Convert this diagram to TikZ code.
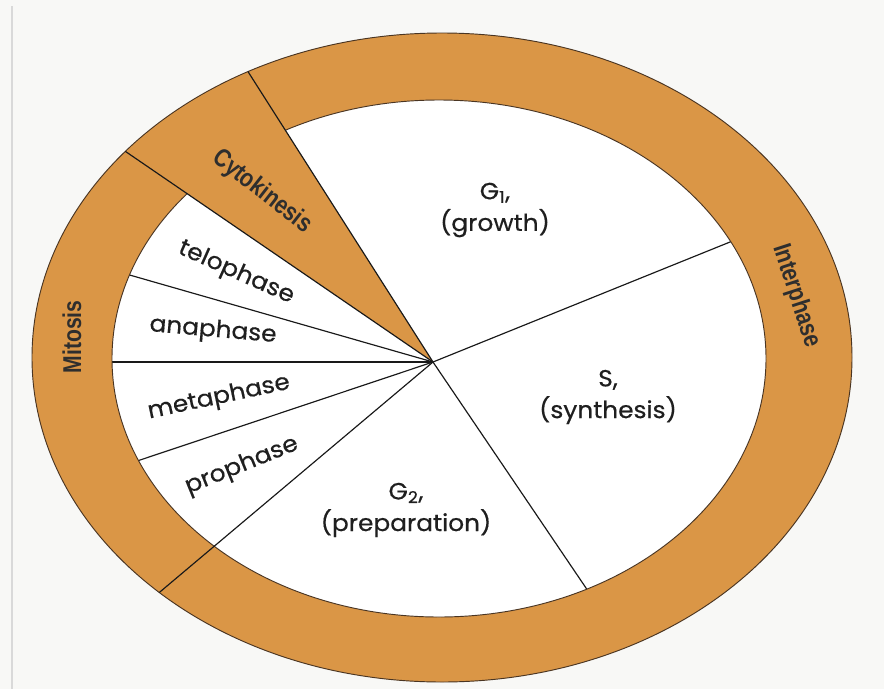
\documentclass[tikz,border=0pt]{standalone}
\usepackage{fontspec}
\setmainfont[FakeStretch=1.06, FakeBold=0.5]{Poppins}
\newfontfamily\stagefont[FakeStretch=0.82]{Liberation Sans}
\usetikzlibrary{calc}

\definecolor{ringorange}{HTML}{DA9646}
\definecolor{edgebrown}{HTML}{4A3522}
\definecolor{paper}{HTML}{F8F8F6}

\tikzset{
  phase/.style={font=\fontsize{20}{27}\selectfont, text=black!88, inner sep=0pt, align=center},
  stage/.style={font=\stagefont\bfseries\fontsize{22}{24}\selectfont, text=black!82, inner sep=0pt},
  radial/.style={draw=black!90, line width=1pt},
  rim/.style={draw=edgebrown, line width=0.8pt},
}

\begin{document}
\begin{tikzpicture}[x=0.03cm, y=-0.03cm]
  \useasboundingbox (0,0) rectangle (884,689);
  \fill[paper] (0,0) rectangle (884,689);
  \draw[black!15, line width=1pt] (12,6) -- (12,689);

  % ring and inner disc
  \coordinate (c) at (433,362);
  \filldraw[fill=ringorange, rim] (442,357.5) ellipse [x radius=410, y radius=324.5];
  \fill[white] (439,358.5) ellipse [x radius=327, y radius=258.5];

  % cytokinesis wedge
  \begin{scope}
    \clip (442,357.5) ellipse [x radius=409, y radius=323.5];
    \fill[ringorange] (c) -- ($(c)+(-122.5:700)$) -- ($(c)+(-145.6:700)$) -- cycle;
  \end{scope}

  \begin{scope}
    \clip (439,358.5) ellipse [x radius=327, y radius=258.5];
    \foreach \a in {-22, -164, -180, -198.5, -304.1}
      \draw[radial] (c) -- ++(\a:700);
  \end{scope}

  % inner rim, not across the wedge
  \begin{scope}
    \clip (c) -- ($(c)+(-122.5:900)$) -- ($(c)+(-60:900)$) -- ($(c)+(0:900)$)
      -- ($(c)+(60:900)$) -- ($(c)+(120:900)$) -- ($(c)+(180:900)$)
      -- ($(c)+(214.4:900)$) -- cycle;
    \draw[rim] (439,358.5) ellipse [x radius=327, y radius=258.5];
  \end{scope}

  % lines through the ring
  \begin{scope}
    \clip (442,357.5) ellipse [x radius=410, y radius=324.5];
    \foreach \a in {-122.5, -145.6, -220.1}
      \draw[radial] (c) -- ++(\a:800);
  \end{scope}

  % labels
  \node[phase] (g1) at (495,210) {G\textsubscript{1},\\(growth)};
  \node[phase] (s) at (608,397) {S,\\(synthesis)};
  \node[phase] (g2) at (406,510) {G\textsubscript{2},\\(preparation)};
  \node[phase, rotate=-24] (telo) at (236,273) {telophase};
  \node[phase, rotate=-5] (ana) at (213,331) {anaphase};
  \node[phase, rotate=12] (meta) at (219,398) {metaphase};
  \node[phase, rotate=22] (pro) at (242,466) {prophase};
  \node[stage, rotate=-38] (cyto) at (262,192) {Cytokinesis};
  \node[stage, rotate=90] (mito) at (72,337) {Mitosis};
  \node[stage, rotate=-72] (inter) at (796,296) {Interphase};
\end{tikzpicture}
\end{document}
